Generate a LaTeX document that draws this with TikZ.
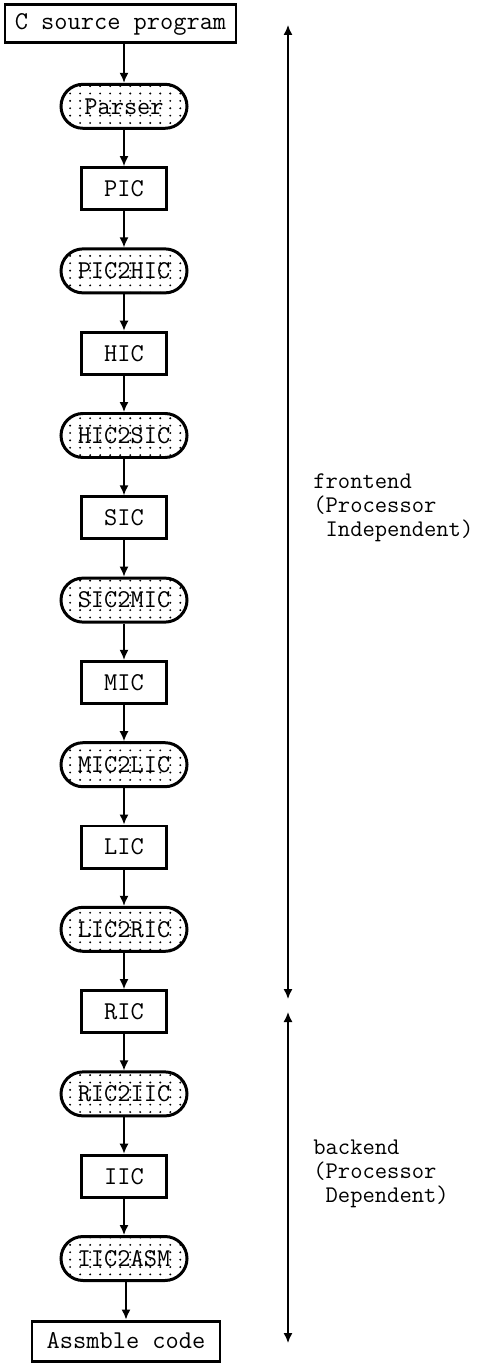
\documentclass[tikz,border=0pt]{standalone}
\usepackage{tikz}
\usetikzlibrary{positioning,arrows.meta,patterns}
% sparse dot fill for the passes
\pgfdeclarepatternformonly{pdots}{\pgfqpoint{-1pt}{-1pt}}{\pgfqpoint{6pt}{5pt}}{\pgfqpoint{5.7pt}{4.2pt}}%
  {\pgfpathcircle{\pgfqpoint{0pt}{0pt}}{0.6pt}\pgfusepath{fill}}

\begin{document}
\begin{tikzpicture}[
  font=\ttfamily\fontsize{14.6}{13.6}\selectfont,
  data/.style={rectangle,draw,line width=1.7pt,minimum width=1.7cm,minimum height=0.84cm,inner sep=0pt},
  pass/.style={rectangle,rounded corners=0.44cm,draw,line width=1.7pt,pattern=pdots,
               minimum width=2.52cm,minimum height=0.88cm,inner sep=0pt},
  flow/.style={-{Latex[length=0.2cm,width=0.18cm]},line width=0.85pt},
  span/.style={{Latex[length=0.2cm,width=0.18cm]}-{Latex[length=0.2cm,width=0.18cm]},line width=0.85pt},
  side/.style={anchor=west,align=left,inner sep=0pt,font=\ttfamily\fontsize{13.6}{13.6}\selectfont}
]
\useasboundingbox (0,0) rectangle (9.66,-27.26);
% ---- compiler chain
\node[data,minimum width=4.62cm,minimum height=0.76cm] (n0) at (2.41,-0.48) {C source program};
\foreach \i/\t/\s in {1/Parser/pass, 2/PIC/data, 3/PIC2HIC/pass, 4/HIC/data,
                      5/HIC2SIC/pass, 6/SIC/data, 7/SIC2MIC/pass, 8/MIC/data,
                      9/MIC2LIC/pass, 10/LIC/data, 11/LIC2RIC/pass, 12/RIC/data,
                      13/RIC2IIC/pass, 14/IIC/data, 15/IIC2ASM/pass}
  \node[\s] (n\i) at (2.48,{-0.48-1.646*\i}) {\t};
\node[data,minimum width=3.76cm,minimum height=0.8cm] (n16) at (2.52,-26.82) {Assmble code};
\foreach \i [remember=\i as \p (initially 0)] in {1,...,16}
  \draw[flow] (n\i.north |- n\p.south) -- (n\i.north);
% ---- frontend / backend spans
\coordinate (ftop) at (5.76,-0.5);
\coordinate (fbot) at (5.76,-19.98);
\coordinate (btop) at (5.76,-20.24);
\coordinate (bbot) at (5.76,-26.86);
\draw[span] (ftop) -- (fbot);
\draw[span] (btop) -- (bbot);
\node[side] (front) at (6.26,-10.16)
  {frontend\\(Processor\\\hphantom{(}Independent)};
\node[side] (back) at (6.26,-23.48)
  {backend\\(Processor\\\hphantom{(}Dependent)};
\end{tikzpicture}
\end{document}
